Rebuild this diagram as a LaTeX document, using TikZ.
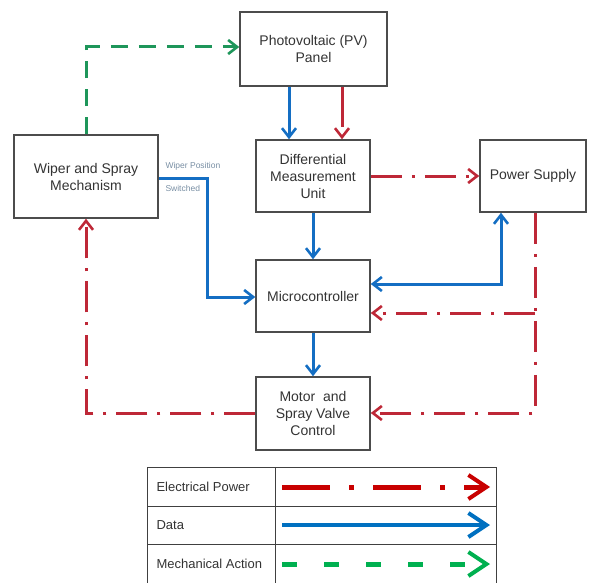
\documentclass[tikz,border=0pt]{standalone}
\usepackage{fontspec}
\setmainfont{Liberation Sans}
\usetikzlibrary{arrows.meta}
\definecolor{epow}{RGB}{190,40,55}
\definecolor{edata}{RGB}{20,110,195}
\definecolor{emech}{RGB}{30,150,90}
\definecolor{lred}{RGB}{200,0,0}
\definecolor{lblue}{RGB}{0,112,192}
\definecolor{lgreen}{RGB}{0,176,80}
\tikzset{
  blk/.style={draw=black!70, line width=1.5pt, align=center, text=black!80, font=\fontsize{14}{17}\selectfont, inner sep=0pt},
  barb/.tip={Straight Barb[length=9pt,width=14pt,line width=2.6pt]},
  tip/.style={-barb},
  power/.style={tip, draw=epow, line width=3pt, dash pattern=on 31pt off 10pt on 3pt off 10pt},
  data/.style={tip, draw=edata, line width=3pt},
  mech/.style={tip, draw=emech, line width=3pt, dash pattern=on 17pt off 11pt},
  lab/.style={font=\fontsize{8.5}{10}\selectfont, text=edata!45!black!55},
  legtxt/.style={font=\fontsize{13}{15}\selectfont, anchor=west, text=black!80},
  legtip/.tip={Straight Barb[length=18pt,width=24pt,line width=4pt]},
}
\begin{document}
\begin{tikzpicture}[x=1pt,y=-1pt]
\useasboundingbox (0,0) rectangle (589,583);
% blocks
\node[blk, minimum width=147pt, minimum height=74pt] (pv) at (313.5,49) {Photovoltaic (PV)\\Panel};
\node[blk, minimum width=114pt, minimum height=72pt] (dmu) at (313,176) {Differential\\Measurement\\Unit};
\node[blk, minimum width=106pt, minimum height=72pt] (ps) at (533,176) {Power Supply};
\node[blk, minimum width=144pt, minimum height=83pt] (wsm) at (86,176.5) {Wiper and Spray\\Mechanism};
\node[blk, minimum width=114pt, minimum height=72pt] (mc) at (313,296) {Microcontroller};
\node[blk, minimum width=114pt, minimum height=73pt] (mot) at (313,413.5) {Motor\ \ and\\Spray Valve\\Control};
% coordinates
\coordinate (g1) at (86,47);
\coordinate (w1) at (207,178);
\coordinate (w2) at (207,297);
\coordinate (b1) at (501,284);
\coordinate (r1) at (535,413);
\coordinate (r2) at (535,313);
\coordinate (r3) at (86,413);
% connectors
\draw[mech] (wsm.north) -- (g1) -- (pv.west |- g1);
\draw[data] (pv.south -| 289,0) -- (dmu.north -| 289,0);
\draw[power, dash pattern=on 40pt] (pv.south -| 342,0) -- (dmu.north -| 342,0);
\draw[power] (dmu.east) -- (ps.west);
\draw[data] (dmu.south) -- (mc.north);
\draw[data] (wsm.east |- w1) -- (w1) -- (w2) -- (mc.west |- w2);
\node[lab, anchor=south west] (lw1) at (162,174) {Wiper Position};
\node[lab, anchor=north west] (lw2) at (162,182) {Switched};
\draw[data, barb-barb] (mc.east |- b1) -- (b1) -- (ps.south -| b1);
\draw[power] (ps.south -| r1) -- (r1) -- (mot.east |- r1);
\draw[power] (r2) -- (mc.east |- r2);
\draw[data] (mc.south) -- (mot.north);
\draw[power] (mot.west |- r3) -- (r3) -- (wsm.south);
% legend
\draw[black!75, line width=0.8pt] (147,467) rectangle (496,583);
\draw[black!75, line width=0.8pt] (147,506) -- (496,506);
\draw[black!75, line width=0.8pt] (147,544) -- (496,544);
\draw[black!75, line width=0.8pt] (275,467) -- (275,583);
\node[legtxt] (l1) at (153,487) {Electrical Power};
\node[legtxt] (l2) at (153,525) {Data};
\node[legtxt] (l3) at (153,564) {Mechanical Action};
\coordinate (a1s) at (282,487); \coordinate (a1e) at (490,487);
\coordinate (a2s) at (282,525); \coordinate (a2e) at (490,525);
\coordinate (a3s) at (282,564); \coordinate (a3e) at (490,564);
\draw[draw=lred, line width=5pt, dash pattern=on 48pt off 19pt on 5pt off 19pt, -legtip] (a1s) -- (a1e);
\draw[draw=lblue, line width=4.5pt, -legtip] (a2s) -- (a2e);
\draw[draw=lgreen, line width=5pt, dash pattern=on 15pt off 27pt, -legtip] (a3s) -- (a3e);
\end{tikzpicture}
\end{document}
